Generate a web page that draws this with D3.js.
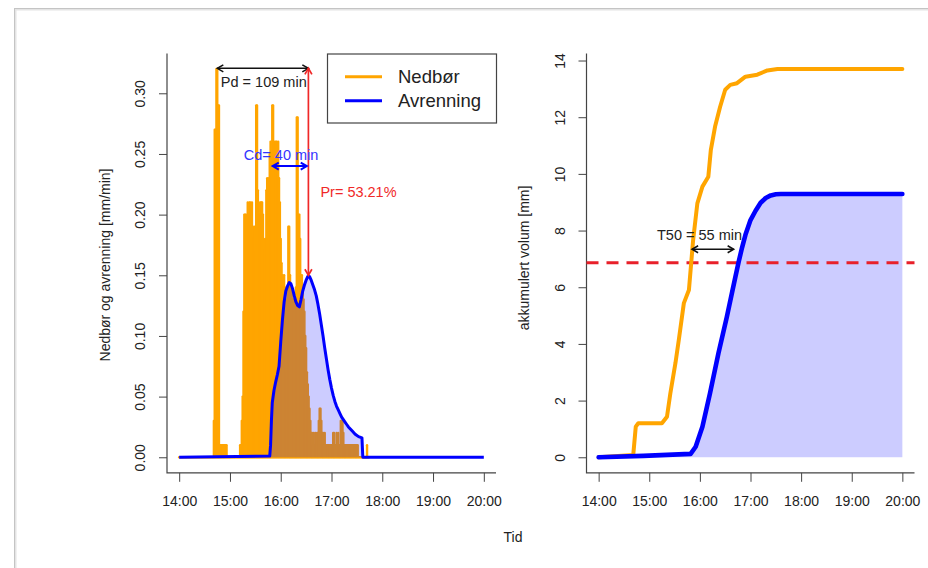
<!DOCTYPE html>
<html>
<head>
<meta charset="utf-8">
<script src="https://cdn.jsdelivr.net/npm/d3@7"></script>
<style>
  body { margin: 0; background: #fff; }
  svg { display: block; font-family: "Liberation Sans", Arial, sans-serif; }
</style>
</head>
<body>
<div id="chart"></div>
<script>
// nedbør per minutt, fra 14:00 (indeks = minutter etter 14:00)
var rain = [
  0,0,0,0,0,0,0,0,0,0, 0,0,0,0,0,0,0,0,0,0,
  0,0,0,0,0,0,0,0,0,0, 0,0,0,0,0,0,0,0,0,0,
  0,0.03,0.27,0.27,0.32,0.32,0.29,0.29,0.01,0.01,
  0.01,0.01,0.01,0.01,0.01,0.01,0.01,0,0,0,
  0,0,0,0,0,0,0,0,0,0, 0,0,0.01,0.01,0.03,0.05,0.12,0.20,0.20,0.20,
  0.19,0.21,0.20,0.21,0.21,0.20,0.21,0.19,0.18,0.19,
  0.17,0.29,0.29,0.22,0.21,0.20,0.21,0.21,0.21,0.20,
  0.18,0.17,0.18,0.22,0.23,0.22,0.23,0.25,0.26,0.25,
  0.29,0.29,0.26,0.25,0.26,0.26,0.25,0.26,0.23,0.21,
  0.18,0.16,0.15,0.14,0.15,0.14,0.13,0.07,0.14,0.19,
  0.19,0.15,0.14,0.14,0.13,0.13,0.12,0.13,0.14,0.28,
  0.28,0.20,0.20,0.18,0.15,0.15,0.14,0.13,0.12,0.10,
  0.09,0.07,0.06,0.05,0.04,0.03,0.02,0.02,0.01,0.02,
  0.01,0.02,0.01,0.02,0.02,0.03,0.04,0.04,0.03,0.02,
  0.02,0.01,0.02,0.01,0.01,0.01,0.01,0.01,0.01,0.01,
  0.01,0.01,0.02,0.02,0.01,0.01,0.02,0.01,0.02,0.01,
  0.01,0.03,0.03,0.03,0.02,0.01,0.01,0.01,0.01,0.01,
  0.01,0.01,0.01,0.01,0.01,0.01,0.01,0.01,0.01,0.01,
  0.01,0.01,0,0,0,0,0,0,0,0, 0,0,0.01,0,0
];

// avrenning [mm/min]
var runMin = [0,107,108,109,110,112,114,116,118,120,122,124,126,128,130,132,134,136,138,140,
  142,144,146,148,150,152,154,156,158,160,162,164,166,168,170,172,174,176,178,180,
  182,184,186,188,190,192,194,196,198,200,204,208,212,216,217,360];
var runVal = [0,0.001,0.01,0.03,0.045,0.055,0.062,0.068,0.075,0.095,0.113,0.128,0.137,0.141,0.144,0.143,0.139,0.133,0.128,0.125,
  0.124,0.13,0.137,0.142,0.146,0.149,0.149,0.146,0.142,0.138,0.133,0.126,0.118,0.109,0.1,0.09,0.081,0.072,0.064,0.057,
  0.051,0.046,0.042,0.039,0.036,0.033,0.031,0.029,0.027,0.025,0.022,0.019,0.017,0.016,0,0];

// akkumulert nedbør [mm]
var cumRainMin = [0,41,44,47,52,75,81,85,91,95,101,107,112,117,123,130,133,138,144,150,156,164,174,188,200,212,360];
var cumRainVal = [0,0.08,1.08,1.2,1.2,1.2,1.43,2.26,3.32,4.14,5.44,5.9,7.67,8.96,9.55,9.9,10.85,11.67,12.37,12.97,13.14,13.2,13.43,13.5,13.65,13.7,13.7];

// akkumulert avrenning [mm]
var cumRunMin = [0,53,109,115,123,132,142,152,158,162,166,170,174,180,186,192,198,204,210,216,360];
var cumRunVal = [0,0.05,0.12,0.37,1.08,2.26,3.67,4.96,5.8,6.35,6.9,7.4,7.85,8.37,8.7,8.98,9.15,9.24,9.28,9.29,9.29];

var xTicks = [0,60,120,180,240,300,360];
var yTicksLeft = [0,0.05,0.10,0.15,0.20,0.25,0.30];
var yTicksRight = [0,2,4,6,8,10,12,14];
var t50Level = 6.86;

var t0 = new Date(2020, 5, 1, 14, 0);
function toDate(m) { return new Date(t0.getTime() + m * 60000); }
// R-style 4% padding
function pad(lo, hi) { var d = (hi - lo) * 0.04; return [lo - d, hi + d]; }

var W = 928, H = 568;
var svg = d3.select("#chart").append("svg").attr("width", W).attr("height", H);

// screenshot frame
svg.append("rect").attr("x", 15.5).attr("y", 9.5).attr("width", 1000).attr("height", 1000)
  .attr("fill", "none").attr("stroke", "#e4e4e4").attr("stroke-width", 2);
svg.append("rect").attr("x", 14.5).attr("y", 8.5).attr("width", 1000).attr("height", 1000)
  .attr("fill", "none").attr("stroke", "#c4c4c4");

var plotTop = 53.5, plotBottom = 472.8;
var orange = "#FFA500", blue = "#0000FF", red = "#F02828";

function arrow(g, x1, y1, x2, y2, color, sw) {
  g.append("line").attr("x1", x1).attr("y1", y1).attr("x2", x2).attr("y2", y2)
    .attr("stroke", color).attr("stroke-width", sw);
  var a = Math.atan2(y2 - y1, x2 - x1), L = 7, s = Math.PI / 6;
  [[x2, y2, a + Math.PI], [x1, y1, a]].forEach(function(p) {
    var path = "M" + (p[0] + L * Math.cos(p[2] + s)) + "," + (p[1] + L * Math.sin(p[2] + s)) +
      "L" + p[0] + "," + p[1] +
      "L" + (p[0] + L * Math.cos(p[2] - s)) + "," + (p[1] + L * Math.sin(p[2] - s));
    g.append("path").attr("d", path).attr("fill", "none").attr("stroke", color).attr("stroke-width", sw);
  });
}

function axes(g, x, y, x0, x1, yTicks, fmt) {
  g.append("g").attr("transform", "translate(0," + plotBottom + ")")
    .call(d3.axisBottom(x).tickValues(xTicks.map(toDate)).tickFormat(d3.timeFormat("%H:%M")).tickSize(9))
    .call(function(a) { a.select(".domain").remove(); })
    .call(function(a) {
      a.selectAll("line").attr("stroke", "#444");
      a.selectAll("text").attr("y", 28).attr("dy", null).attr("dominant-baseline", "central")
        .attr("font-size", 14).attr("fill", "#222").attr("font-family", "Liberation Sans, Arial, sans-serif");
    });
  g.append("g").attr("transform", "translate(" + x0 + ",0)")
    .call(d3.axisLeft(y).tickValues(yTicks).tickFormat(fmt).tickSize(8))
    .call(function(a) { a.select(".domain").remove(); })
    .call(function(a) {
      a.selectAll("line").attr("stroke", "#444");
      a.selectAll("text").attr("x", null).attr("dy", null).attr("text-anchor", "middle")
        .attr("dominant-baseline", "central").attr("transform", "translate(-27,0) rotate(-90)")
        .attr("font-size", 14).attr("fill", "#222").attr("font-family", "Liberation Sans, Arial, sans-serif");
    });
  // L-shaped box
  g.append("path").attr("d", "M" + x0 + "," + plotTop + "V" + plotBottom + "H" + x1)
    .attr("fill", "none").attr("stroke", "#444").attr("stroke-width", 1.2);
}

// ---------- venstre panel ----------
var xL = d3.scaleTime().domain(pad(0, 360).map(toDate)).range([167, 496]);
var yL = d3.scaleLinear().domain(pad(0, 0.32)).range([plotBottom, plotTop]);
var gL = svg.append("g");

axes(gL, xL, yL, 167, 496, yTicksLeft, d3.format(".2f"));

gL.selectAll(".bar").data(rain).enter().append("line")
  .attr("x1", function(d, i) { return xL(toDate(i)); })
  .attr("x2", function(d, i) { return xL(toDate(i)); })
  .attr("y1", yL(0))
  .attr("y2", function(d) { return yL(d); })
  .attr("stroke", orange).attr("stroke-width", 2.4).attr("stroke-linecap", "round");

var runData = runMin.map(function(m, i) { return { m: m, v: runVal[i] }; });
gL.append("path").datum(runData)
  .attr("fill", "rgba(0,0,255,0.2)")
  .attr("d", d3.area().x(function(d) { return xL(toDate(d.m)); }).y0(yL(0)).y1(function(d) { return yL(d.v); }));
gL.append("path").datum(runData)
  .attr("fill", "none").attr("stroke", blue).attr("stroke-width", 3).attr("stroke-linejoin", "round")
  .attr("d", d3.line().x(function(d) { return xL(toDate(d.m)); }).y(function(d) { return yL(d.v); }));

// annoteringer
arrow(gL, xL(toDate(45)), yL(0.3206), xL(toDate(152.7)), yL(0.3206), "#111", 1.5);
gL.append("text").attr("x", xL(toDate(100))).attr("y", yL(0.3096)).attr("text-anchor", "middle")
  .attr("dominant-baseline", "central").attr("font-size", 14.5).attr("fill", "#222").text("Pd = 109 min");
arrow(gL, xL(toDate(152.7)), yL(0.3206), xL(toDate(152.7)), yL(0.150), red, 1.7);
gL.append("text").attr("x", xL(toDate(211.9))).attr("y", yL(0.219)).attr("text-anchor", "middle")
  .attr("dominant-baseline", "central").attr("font-size", 14.5).attr("fill", red).text("Pr= 53.21%");
arrow(gL, xL(toDate(110.5)), yL(0.240), xL(toDate(150.8)), yL(0.240), blue, 2);
gL.append("text").attr("x", xL(toDate(120.4))).attr("y", yL(0.249)).attr("text-anchor", "middle")
  .attr("dominant-baseline", "central").attr("font-size", 14.5).attr("fill", "#3535ff").text("Cd= 40 min");

// legend
var lg = gL.append("g");
lg.append("rect").attr("x", 327.5).attr("y", 54).attr("width", 169).attr("height", 69)
  .attr("fill", "#fff").attr("stroke", "#444").attr("stroke-width", 1.2);
[["Nedbør", orange, 76.7], ["Avrenning", blue, 100.7]].forEach(function(d) {
  lg.append("line").attr("x1", 345).attr("x2", 382).attr("y1", d[2]).attr("y2", d[2])
    .attr("stroke", d[1]).attr("stroke-width", 3);
  lg.append("text").attr("x", 398).attr("y", d[2]).attr("dominant-baseline", "central")
    .attr("font-size", 18.5).attr("fill", "#222").text(d[0]);
});

gL.append("text").attr("transform", "translate(105,265) rotate(-90)").attr("text-anchor", "middle")
  .attr("dominant-baseline", "central").attr("font-size", 14).attr("fill", "#222")
  .text("Nedbør og avrenning [mm/min]");

// ---------- høyre panel ----------
var xR = d3.scaleTime().domain(pad(0, 360).map(toDate)).range([586.5, 914.5]);
var yR = d3.scaleLinear().domain(pad(0, 13.7)).range([plotBottom, plotTop]);
var gR = svg.append("g");

axes(gR, xR, yR, 586.5, 914.5, yTicksRight, d3.format("d"));

var cumRun = cumRunMin.map(function(m, i) { return { m: m, v: cumRunVal[i] }; });
var cumRain = cumRainMin.map(function(m, i) { return { m: m, v: cumRainVal[i] }; });

gR.append("path").datum(cumRun)
  .attr("fill", "rgba(0,0,255,0.2)")
  .attr("d", d3.area().x(function(d) { return xR(toDate(d.m)); }).y0(yR(0)).y1(function(d) { return yR(d.v); }));

gR.append("line").attr("x1", 586.5).attr("x2", 914.5).attr("y1", yR(t50Level)).attr("y2", yR(t50Level))
  .attr("stroke", "#e8202a").attr("stroke-width", 3).attr("stroke-dasharray", "12,8");

gR.append("path").datum(cumRain)
  .attr("fill", "none").attr("stroke", orange).attr("stroke-width", 4).attr("stroke-linejoin", "round")
  .attr("stroke-linecap", "round")
  .attr("d", d3.line().x(function(d) { return xR(toDate(d.m)); }).y(function(d) { return yR(d.v); }));
gR.append("path").datum(cumRun)
  .attr("fill", "none").attr("stroke", blue).attr("stroke-width", 4.6).attr("stroke-linejoin", "round")
  .attr("stroke-linecap", "round")
  .attr("d", d3.line().x(function(d) { return xR(toDate(d.m)); }).y(function(d) { return yR(d.v); }));

arrow(gR, xR(toDate(110.7)), yR(7.34), xR(toDate(160.1)), yR(7.34), "#111", 1.5);
gR.append("text").attr("x", xR(toDate(119.6))).attr("y", yR(7.85)).attr("text-anchor", "middle")
  .attr("dominant-baseline", "central").attr("font-size", 14.5).attr("fill", "#222").text("T50 = 55 min");

gR.append("text").attr("transform", "translate(524,258) rotate(-90)").attr("text-anchor", "middle")
  .attr("dominant-baseline", "central").attr("font-size", 14).attr("fill", "#222")
  .text("akkumulert volum [mm]");

svg.append("text").attr("x", 513).attr("y", 537).attr("text-anchor", "middle")
  .attr("dominant-baseline", "central").attr("font-size", 14).attr("fill", "#222").text("Tid");
</script>
</body>
</html>
